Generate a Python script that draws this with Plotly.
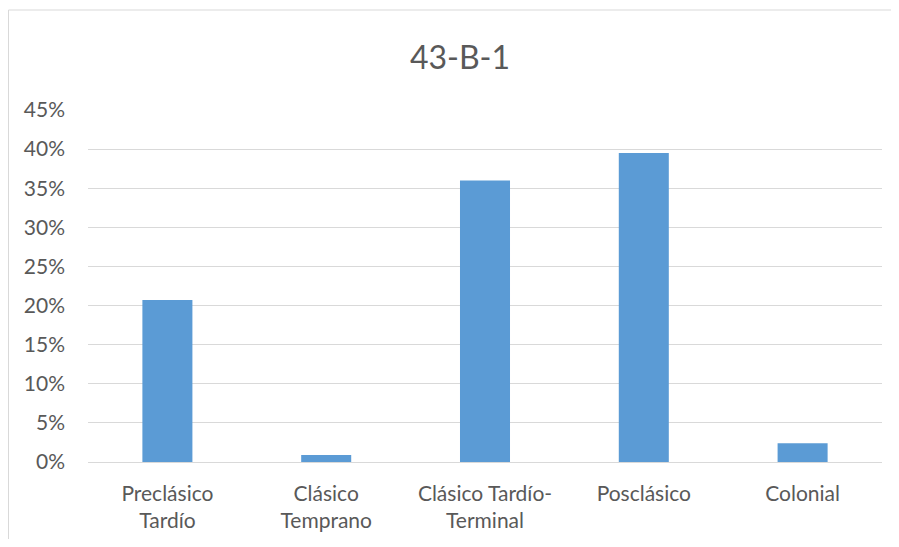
import plotly.graph_objects as go

categories = ["Preclásico<br>Tardío", "Clásico<br>Temprano", "Clásico Tardío-<br>Terminal", "Posclásico", "Colonial"]
values = [0.207, 0.009, 0.360, 0.395, 0.024]
y_ticks = [0, 0.05, 0.10, 0.15, 0.20, 0.25, 0.30, 0.35, 0.40, 0.45]
y_tick_labels = ["0%", "5%", "10%", "15%", "20%", "25%", "30%", "35%", "40%", "45%"]
title_text = "43-B-1"

# page body has an 8px margin; figure placed at (8, 8) in the window
OFF = 8
W, H = 885, 531
L, R, T, B = 80, 11, 102, 77
pw, ph = W - L - R, H - T - B

def px_x(x):
    return (x - L) / pw

def px_y(y):
    return (H - B - y) / ph

fig = go.Figure(go.Bar(
    x=categories, y=values,
    marker=dict(color="#5B9BD5", line=dict(width=0)),
    width=0.315,
    hoverinfo="skip",
))

fig.update_layout(
    width=W, height=H,
    margin=dict(l=L, r=R, t=T, b=B),
    paper_bgcolor="white", plot_bgcolor="white",
    showlegend=False,
    font=dict(family="Lato, 'Open Sans', sans-serif", color="#595959", size=21),
    title=dict(text=title_text, x=px_x(460 - OFF), xref="paper", y=1 - (58 - OFF) / H, yanchor="middle",
               xanchor="center", font=dict(size=32, color="#595959")),
    xaxis=dict(showgrid=False, showline=False, ticks="", tickfont=dict(size=21),
               ticklabelstandoff=17, automargin=False),
    yaxis=dict(range=[0, 0.45], tickvals=y_ticks, ticktext=y_tick_labels,
               showgrid=True, gridcolor="#D9D9D9", gridwidth=1,
               zeroline=True, zerolinecolor="#D9D9D9", zerolinewidth=1,
               showline=False, ticks="", tickfont=dict(size=21),
               ticklabelstandoff=22, automargin=False),
    shapes=[dict(type="rect", xref="paper", yref="paper",
                 x0=px_x(0.5), x1=px_x(892 - OFF), y0=px_y(600), y1=px_y(10 - OFF),
                 line=dict(color="#D9D9D9", width=1), fillcolor="rgba(0,0,0,0)",
                 layer="below")],
)

fig.write_html("out.html")
